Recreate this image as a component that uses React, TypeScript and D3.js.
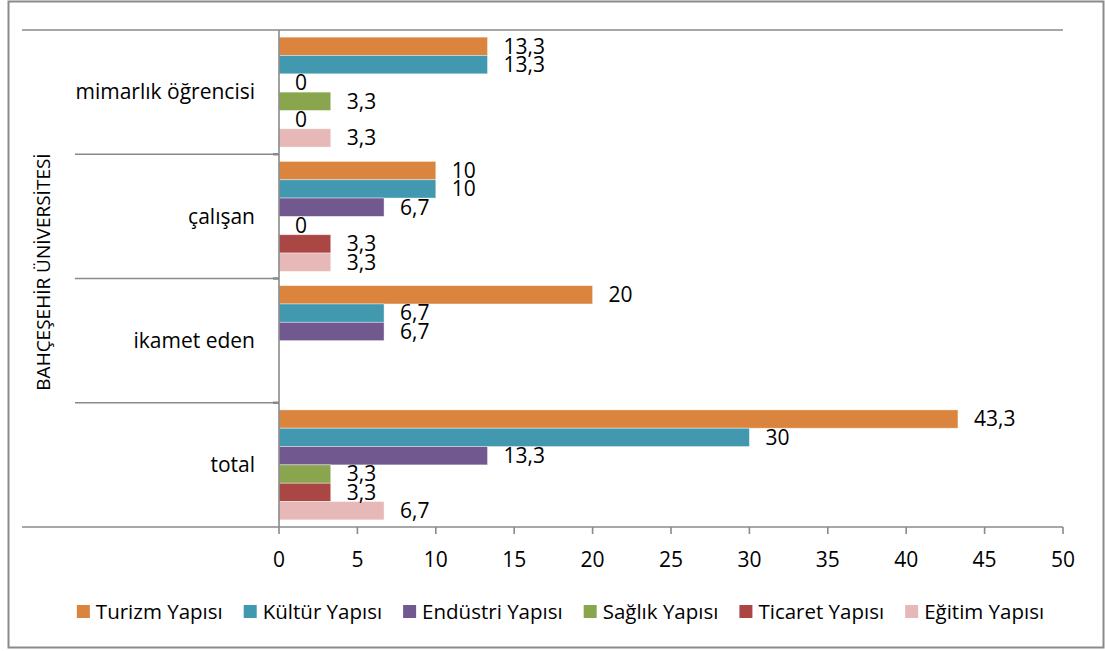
import React, { useRef, useEffect } from 'react'
import * as d3 from 'd3'

// categories (top to bottom)
const groups = ['mimarlık öğrencisi', 'çalışan', 'ikamet eden', 'total']
const seriesNames = ['Turizm Yapısı', 'Kültür Yapısı', 'Endüstri Yapısı', 'Sağlık Yapısı', 'Ticaret Yapısı', 'Eğitim Yapısı']
const seriesColors = ['#db843d', '#4198af', '#71588f', '#89a54e', '#aa4643', '#e6b9b8']

// values per series, one per group (null = no bar, no label)
const turizm = [13.3, 10, 20, 43.3]
const kultur = [13.3, 10, 6.7, 30]
const endustri = [0, 6.7, 6.7, 13.3]
const saglik = [3.3, 0, null, 3.3]
const ticaret = [0, 3.3, null, 3.3]
const egitim = [3.3, 3.3, null, 6.7]
const seriesValues = [turizm, kultur, endustri, saglik, ticaret, egitim]

const xTicks = [0, 5, 10, 15, 20, 25, 30, 35, 40, 45, 50]
const outerLabel = 'BAHÇEŞEHİR ÜNİVERSİTESİ'

const W = 1105
const H = 651
const FONT = '"Open Sans", "Noto Sans", sans-serif'
const GRAY = '#8a8a8a'

const trLocale = d3.formatLocale({ decimal: ',', thousands: '.', grouping: [3], currency: ['', ''] })
const fmt = trLocale.format('.1~f')

function App() {
  const svgRef = useRef<SVGSVGElement>(null)

  useEffect(() => {
    const svg = d3.select(svgRef.current)
    svg.selectAll('*').remove()

    const left = 279
    const right = 1063
    const top = 30
    const bottom = 527

    const x = d3.scaleLinear().domain([0, 50]).range([left, right])
    const y = d3.scaleBand().domain(groups).range([top, bottom]).padding(0)
    const yInner = d3.scaleBand().domain(seriesNames).range([0, y.bandwidth()]).paddingInner(0).paddingOuter(0.39)

    // outer frame
    svg.append('rect')
      .attr('x', 8.5).attr('y', 1.5)
      .attr('width', 1095).attr('height', 646)
      .attr('fill', '#fff')
      .attr('stroke', GRAY).attr('stroke-width', 2)

    // bars
    const rows = groups.flatMap((g, gi) =>
      seriesNames.map((s, si) => ({ g, s, si, v: seriesValues[si][gi] }))
    ).filter(d => d.v !== null) as { g: string; s: string; si: number; v: number }[]

    svg.append('g')
      .selectAll('rect')
      .data(rows)
      .join('rect')
      .attr('x', x(0))
      .attr('y', d => (y(d.g) as number) + (yInner(d.s) as number))
      .attr('width', d => x(d.v) - x(0))
      .attr('height', yInner.bandwidth())
      .attr('fill', d => seriesColors[d.si])
      .attr('stroke', '#fff')
      .attr('stroke-opacity', 0.5)
      .attr('stroke-width', 0.8)

    // value labels
    svg.append('g')
      .selectAll('text')
      .data(rows)
      .join('text')
      .attr('x', d => x(d.v) + 16)
      .attr('y', d => (y(d.g) as number) + (yInner(d.s) as number) + yInner.bandwidth() / 2)
      .attr('dy', '0.35em')
      .attr('font-family', FONT)
      .attr('font-size', 21)
      .attr('fill', '#000')
      .text(d => fmt(d.v))

    // axis lines
    const axis = svg.append('g').attr('stroke', GRAY).attr('stroke-width', 1.6).attr('fill', 'none')
    axis.append('line').attr('x1', 22).attr('x2', right).attr('y1', top).attr('y2', top)
    axis.append('line').attr('x1', 22).attr('x2', right).attr('y1', bottom).attr('y2', bottom)
    axis.append('line').attr('x1', left).attr('x2', left).attr('y1', top).attr('y2', bottom)
    groups.slice(1).forEach(g => {
      const yy = y(g) as number
      axis.append('line').attr('x1', 75).attr('x2', left).attr('y1', yy).attr('y2', yy)
      axis.append('line').attr('x1', left - 6).attr('x2', left).attr('y1', yy).attr('y2', yy)
        .attr('stroke-width', 2.5)
    })

    // bottom axis ticks and labels
    const xAxis = svg.append('g')
    xAxis.selectAll('line')
      .data(xTicks)
      .join('line')
      .attr('x1', d => x(d)).attr('x2', d => x(d))
      .attr('y1', bottom).attr('y2', bottom + 7)
      .attr('stroke', GRAY).attr('stroke-width', 1.6)
    xAxis.selectAll('text')
      .data(xTicks)
      .join('text')
      .attr('x', d => x(d))
      .attr('y', 567)
      .attr('text-anchor', 'middle')
      .attr('font-family', FONT)
      .attr('font-size', 21)
      .text(d => fmt(d))

    // category labels
    svg.append('g')
      .selectAll('text')
      .data(groups)
      .join('text')
      .attr('x', 255)
      .attr('y', d => (y(d) as number) + y.bandwidth() / 2)
      .attr('dy', '0.35em')
      .attr('text-anchor', 'end')
      .attr('font-family', FONT)
      .attr('font-size', 21)
      .text(d => d)

    // outer category label
    svg.append('text')
      .attr('transform', 'translate(50,272) rotate(-90)')
      .attr('text-anchor', 'middle')
      .attr('font-family', FONT)
      .attr('font-size', 19)
      .text(outerLabel)

    // legend, laid out from measured text widths and centered
    const legend = svg.append('g')
    const items = seriesNames.map((name, i) => {
      const it = legend.append('g')
      it.append('rect').attr('width', 13).attr('height', 13).attr('y', 605).attr('fill', seriesColors[i])
      const t = it.append('text')
        .attr('x', 19).attr('y', 619)
        .attr('font-family', FONT).attr('font-size', 20.5)
        .text(name)
      const w = (t.node() as SVGTextElement).getComputedTextLength()
      return { it, w: 19 + w }
    })
    const gap = 21
    const total = d3.sum(items, d => d.w) + gap * (items.length - 1)
    let cx = 560.5 - total / 2
    items.forEach(d => {
      d.it.attr('transform', `translate(${cx},0)`)
      cx += d.w + gap
    })
  }, [])

  return (
    <svg
      ref={svgRef}
      width={W}
      height={H}
      style={{ position: 'absolute', left: 0, top: 0, background: '#fff' }}
    />
  )
}

export default App
